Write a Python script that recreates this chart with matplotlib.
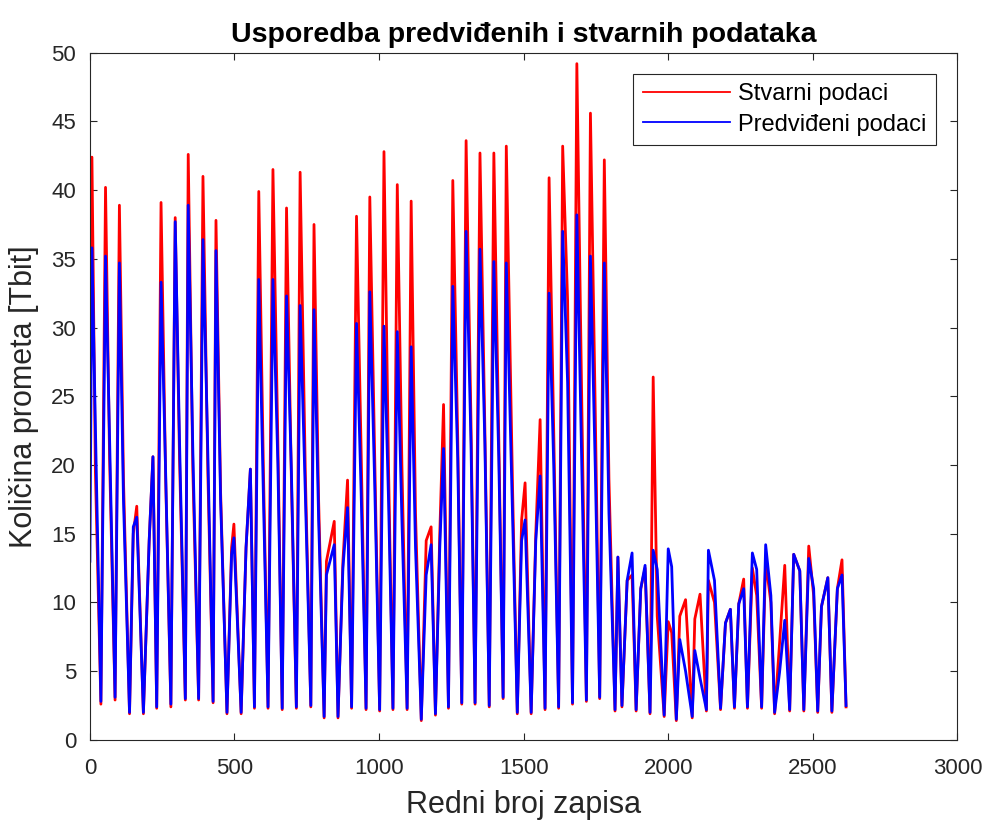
import numpy as np
import matplotlib
matplotlib.use("Agg")
import matplotlib.pyplot as plt

plt.rcParams['font.family'] = ['Liberation Sans', 'DejaVu Sans']

# one entry per daily cycle: trough before the cycle, main peak, and a shoulder point
trough_x = [0, 38, 87, 137, 185, 231, 280, 330, 376, 426,
            474, 523, 569, 616, 665, 714, 764, 810, 858, 905,
            955, 1002, 1048, 1097, 1146, 1195, 1240, 1286, 1332, 1381,
            1429, 1478, 1526, 1574, 1621, 1669, 1717, 1763, 1816, 1840,
            1889, 1937, 1986, 2028, 2083, 2132, 2181, 2229, 2274, 2323,
            2368, 2420, 2469, 2517, 2566]
trough_real = [25.0, 2.6, 2.9, 1.9, 1.9, 2.3, 2.4, 2.9, 2.9, 2.7,
               1.9, 1.9, 2.3, 2.3, 2.2, 2.3, 2.4, 1.6, 1.6, 2.3,
               2.2, 2.1, 2.2, 2.2, 1.4, 1.8, 2.3, 2.6, 2.6, 2.4,
               3.0, 1.9, 1.9, 2.2, 2.3, 2.6, 2.8, 3.0, 2.1, 2.4,
               2.1, 1.9, 1.7, 1.4, 1.6, 2.1, 2.2, 2.3, 2.3, 2.3,
               1.9, 2.1, 2.1, 2.0, 2.0]
trough_pred = [13.0, 2.8, 3.1, 2.0, 2.0, 2.4, 2.6, 3.0, 3.0, 2.8,
               2.0, 2.0, 2.4, 2.4, 2.3, 2.4, 2.5, 1.7, 1.7, 2.4,
               2.3, 2.2, 2.3, 2.3, 1.5, 1.9, 2.4, 2.7, 2.7, 2.5,
               3.1, 2.0, 2.0, 2.3, 2.4, 2.7, 2.9, 3.1, 2.2, 2.5,
               2.2, 2.0, 1.8, 1.5, 1.7, 2.2, 2.3, 2.4, 2.4, 2.4,
               2.0, 2.2, 2.2, 2.1, 2.1]

peak_x = [7, 54, 102, 162, 218, 246, 295, 340, 391, 436,
          498, 555, 584, 633, 680, 727, 775, 845, 891, 922,
          968, 1017, 1063, 1111, 1180, 1223, 1255, 1301, 1349, 1397,
          1440, 1505, 1557, 1588, 1635, 1684, 1731, 1779, 1826, 1875,
          1920, 1948, 2000, 2060, 2110, 2139, 2215, 2261, 2291, 2337,
          2403, 2434, 2486, 2552, 2601]
peak_real = [42.4, 40.2, 38.9, 17.0, 20.6, 39.1, 38.0, 42.6, 41.0, 37.8,
             15.7, 19.7, 39.9, 41.5, 38.7, 41.3, 37.5, 15.9, 18.9, 38.1,
             39.5, 42.8, 40.4, 39.2, 15.5, 24.4, 40.7, 43.6, 42.7, 42.7,
             43.2, 18.7, 23.3, 40.9, 43.2, 49.2, 45.6, 42.2, 13.3, 12.0,
             12.5, 26.4, 8.6, 10.2, 10.6, 11.6, 9.5, 11.7, 12.5, 13.0,
             12.7, 13.5, 14.1, 11.8, 13.1]
peak_pred = [35.8, 35.2, 34.7, 16.2, 20.6, 33.3, 37.7, 38.9, 36.4, 35.6,
             14.7, 19.7, 33.5, 33.5, 32.3, 31.6, 31.3, 14.2, 16.9, 30.3,
             32.6, 30.1, 29.7, 28.6, 14.2, 21.2, 33.0, 37.0, 35.7, 34.8,
             34.7, 16.0, 19.2, 32.5, 37.0, 38.2, 35.2, 34.7, 13.3, 13.6,
             12.7, 13.8, 13.9, 5.0, 4.5, 13.8, 9.5, 11.0, 13.6, 14.2,
             8.7, 13.5, 13.2, 11.8, 12.0]

shoulder_x = [19, 68, 116, 150, 205, 262, 310, 356, 408, 452,
              490, 540, 600, 650, 697, 745, 791, 818, 875, 938,
              985, 1033, 1079, 1126, 1163, 1210, 1272, 1318, 1366, 1414,
              1462, 1493, 1542, 1604, 1652, 1700, 1748, 1795, 1831, 1858,
              1905, 1962, 2012, 2040, 2092, 2160, 2198, 2244, 2306, 2355,
              2385, 2455, 2503, 2530, 2585]
shoulder_real = [19.5, 20.5, 19.0, 15.0, 14.5, 19.0, 20.4, 19.6, 19.3, 18.0,
                 14.0, 14.0, 19.7, 21.7, 18.7, 19.4, 17.4, 13.0, 13.0, 21.0,
                 20.5, 19.5, 20.0, 16.5, 14.5, 15.0, 22.0, 23.0, 22.5, 22.0,
                 18.0, 16.0, 15.0, 22.5, 32.0, 26.0, 23.5, 19.0, 9.5, 11.6,
                 11.0, 9.0, 7.8, 9.0, 8.8, 10.0, 8.5, 9.9, 10.5, 10.0,
                 7.0, 12.3, 10.5, 9.7, 11.0]
shoulder_pred = [22.8, 22.0, 17.5, 15.5, 14.5, 19.4, 21.7, 21.0, 20.7, 17.4,
                 13.5, 14.0, 17.7, 20.1, 19.4, 17.9, 16.0, 12.0, 12.5, 18.0,
                 18.5, 17.2, 16.0, 14.0, 12.0, 14.0, 20.5, 21.5, 21.5, 20.5,
                 16.0, 14.5, 14.5, 20.0, 26.0, 21.0, 19.5, 16.5, 9.5, 11.6,
                 11.0, 12.4, 12.6, 7.3, 6.5, 11.6, 8.5, 9.9, 12.4, 10.5,
                 4.9, 12.3, 11.0, 9.7, 11.0]

end_x = 2615
end_real = 2.4
end_pred = 2.5

# build the vertex path of each series, day by day
xs, real, pred = [], [], []
for i in range(len(trough_x)):
    pts = [(trough_x[i], trough_real[i], trough_pred[i]),
           (peak_x[i], peak_real[i], peak_pred[i]),
           (shoulder_x[i], shoulder_real[i], shoulder_pred[i])]
    pts = [pts[0]] + sorted(pts[1:])
    for p in pts:
        xs.append(p[0])
        real.append(p[1])
        pred.append(p[2])
xs.append(end_x)
real.append(end_real)
pred.append(end_pred)

fig = plt.figure(figsize=(9.88, 8.23), dpi=100)
ax = fig.add_axes([0.091, 0.101, 0.878, 0.835])

ax.plot(xs, real, color='red', lw=2.0, label='Stvarni podaci')
ax.plot(xs, pred, color='blue', lw=2.0, label='Predviđeni podaci')

ax.set_xlim(0, 3000)
ax.set_ylim(0, 50)
ax.set_xticks(np.arange(0, 3001, 500))
ax.set_yticks(np.arange(0, 51, 5))
ax.tick_params(direction='in', length=5, labelsize=16, colors='#262626',
               top=True, right=True, labeltop=False, labelright=False)
ax.tick_params(axis='x', pad=13)
ax.tick_params(axis='y', pad=10)
for s in ax.spines.values():
    s.set_color('#262626')
    s.set_linewidth(0.8)

ax.set_title('Usporedba predviđenih i stvarnih podataka', fontsize=20.5,
             fontweight='bold', pad=8)
ax.set_xlabel('Redni broj zapisa', fontsize=22, color='#262626', labelpad=8)
ax.set_ylabel('Količina prometa [Tbit]', fontsize=22, color='#262626', labelpad=9)

leg = ax.legend(loc='upper right', fontsize=17, handlelength=3.7,
                fancybox=False, framealpha=1, edgecolor='#262626',
                borderaxespad=0.9, borderpad=0.4, labelspacing=0.35,
                handletextpad=0.35)
leg.get_frame().set_linewidth(0.8)
for h in leg.get_lines():
    h.set_linewidth(1.3)

fig.savefig('out.png', dpi=100)
